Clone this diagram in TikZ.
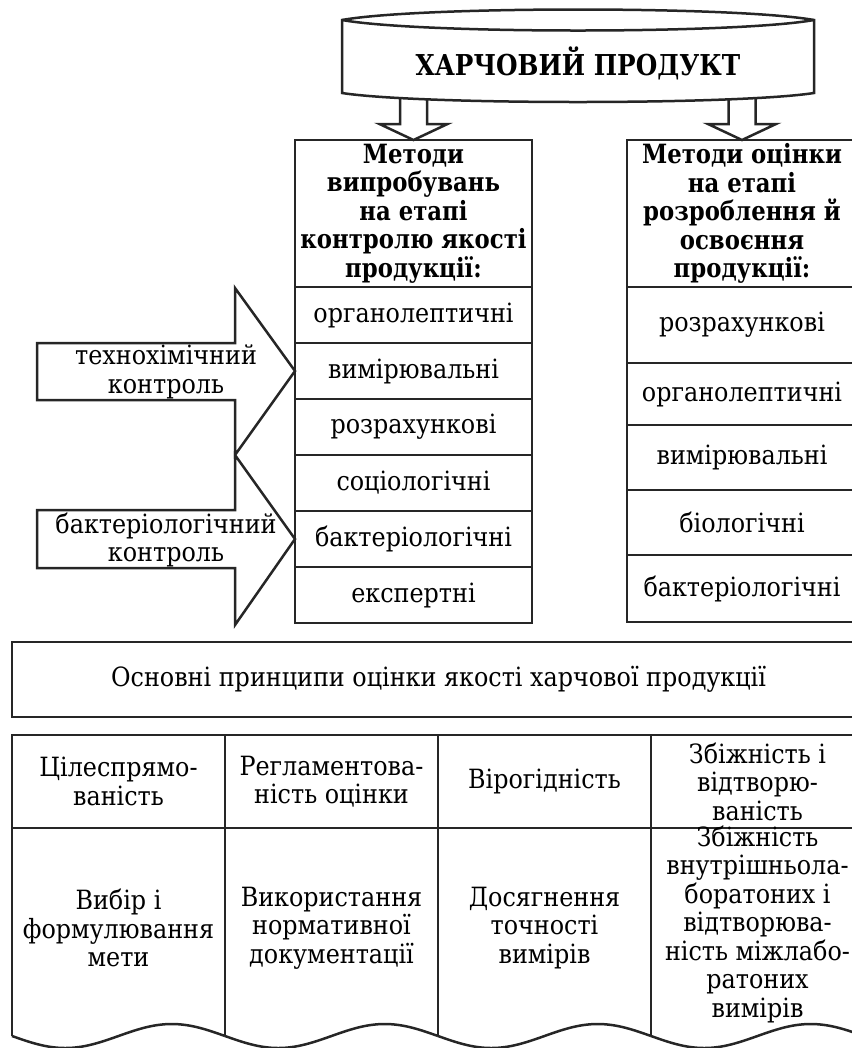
\documentclass[tikz,border=0pt]{standalone}
\usepackage{fontspec}
\setmainfont{DejaVu Serif}[FakeStretch=0.9, BoldFeatures={FakeStretch=0.86}]
\usetikzlibrary{positioning}
\newcommand{\basefont}{\fontsize{10.6}{11.4}\selectfont}
\begin{document}
\begin{tikzpicture}[x=0.4pt, y=-0.4pt, font=\basefont,
    line/.style={draw=black!85, line width=1pt, line join=miter},
    cell/.style 2 args={line, minimum width=#1*0.4pt, minimum height=#2*0.4pt, inner sep=0pt, outer sep=0pt, align=center},
    hcell/.style 2 args={cell={#1}{#2}, font=\basefont\bfseries},
    txt/.style={align=center, inner sep=0pt}]
  \useasboundingbox (0,0) rectangle (852,1048);

  \node[hcell={237}{147}, anchor=north west] (lhead) at (295,140) {Методи\\випробувань\\на етапі\\контролю якості\\продукції:};
  \node[cell={237}{56}, below=0pt of lhead] (l1) {органолептичні};
  \node[cell={237}{56}, below=0pt of l1] (l2) {вимірювальні};
  \node[cell={237}{56}, below=0pt of l2] (l3) {розрахункові};
  \node[cell={237}{56}, below=0pt of l3] (l4) {соціологічні};
  \node[cell={237}{56}, below=0pt of l4] (l5) {бактеріологічні};
  \node[cell={237}{56}, below=0pt of l5] (l6) {експертні};

  \node[hcell={230}{147}, anchor=north west] (rhead) at (627,140) {Методи оцінки\\на етапі\\розроблення й\\освоєння\\продукції:};
  \node[cell={230}{76}, below=0pt of rhead] (r1) {розрахункові};
  \node[cell={230}{62}, below=0pt of r1] (r2) {органолептичні};
  \node[cell={230}{65}, below=0pt of r2] (r3) {вимірювальні};
  \node[cell={230}{65}, below=0pt of r3] (r4) {біологічні};
  \node[cell={230}{67}, below=0pt of r4] (r5) {бактеріологічні};

  \node[txt] (tech) at (166,372) {технохімічний\\контроль};
  \node[txt] (bact) at (166,540) {бактеріологічний\\контроль};
  \draw[line] (37,343) -- (235,343) -- (235,288) -- (l2.west) -- (235,455) -- (235,400) -- (37,400) -- cycle;
  \draw[line] (37,510) -- (235,510) -- (235,455) -- (l5.west) -- (235,625) -- (235,568) -- (37,568) -- cycle;

  \foreach \n in {lhead,rhead}
    \draw[line] ([shift={(-13.5,-48)}]\n.north) -- ([shift={(-13.5,-16)}]\n.north) -- ([shift={(-34,-16)}]\n.north) -- (\n.north)
      -- ([shift={(34,-16)}]\n.north) -- ([shift={(13.5,-16)}]\n.north) -- ([shift={(13.5,-48)}]\n.north);

  \draw[line, fill=white] (342,20) .. controls (420,6) and (736,6) .. (814,20) -- (814,93)
    .. controls (736,105) and (420,105) .. (342,93) -- cycle;
  \draw[line] (342,20) .. controls (420,34) and (736,34) .. (814,20);
  \node[font=\fontsize{11.5}{12}\selectfont\bfseries] (title) at (578,63) {ХАРЧОВИЙ ПРОДУКТ};

  \node[cell={853}{75}, anchor=north west] (basis) at (12,642) {Основні принципи оцінки якості харчової продукції};

  \node[cell={213}{93}, anchor=north west] (h1) at (12,735) {Цілеспрямо-\\ваність};
  \node[cell={213}{93}, right=0pt of h1] (h2) {Регламентова-\\ність оцінки};
  \node[cell={213}{93}, right=0pt of h2] (h3) {Вірогідність};
  \node[cell={213}{93}, right=0pt of h3] (h4) {Збіжність і\\відтворю-\\ваність};

  \node[txt] (b1) at (118.5,928) {Вибір і\\формулювання\\мети};
  \node[txt] (b2) at (331.5,928) {Використання\\нормативної\\документації};
  \node[txt] (b3) at (544.5,928) {Досягнення\\точності\\вимірів};
  \node[txt] (b4) at (757.5,924) {Збіжність\\внутрішньола-\\боратоних і\\відтворюва-\\ність міжлабо-\\ратоних\\вимірів};

  \foreach \h in {h1,h2,h3,h4} {
    \draw[line] (\h.south west) -- ++(0,208);
    \draw[line] ([yshift=-208*0.4pt]\h.south west) sin ++(53.25,12) cos ++(53.25,-12) sin ++(53.25,-12) cos ++(53.25,12);
  }
  \draw[line] (h4.south east) -- ++(0,208);
\end{tikzpicture}
\end{document}
